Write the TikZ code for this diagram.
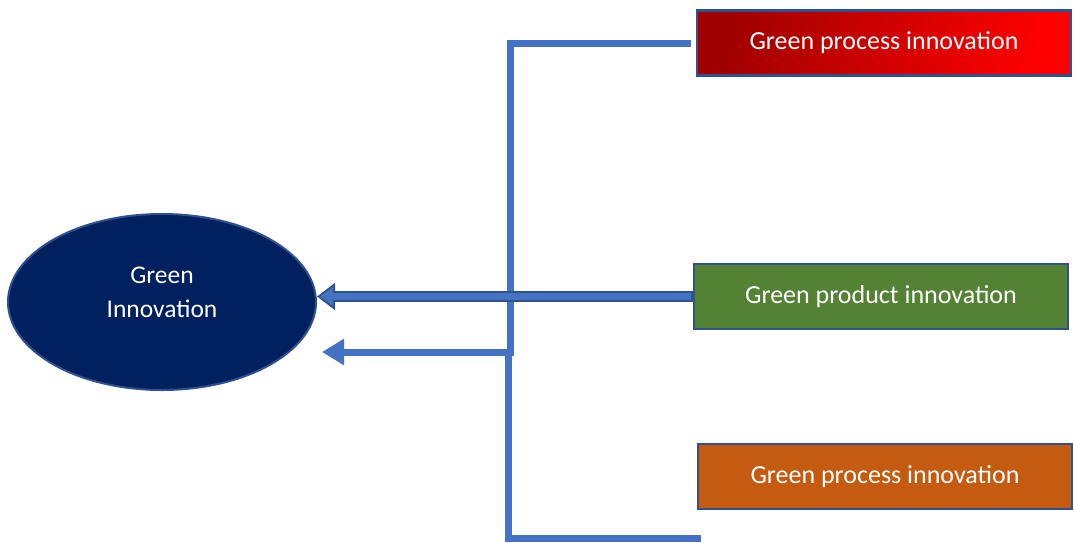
\documentclass[tikz,border=0pt]{standalone}
\usepackage{fontspec}
\setmainfont{Carlito}
\usetikzlibrary{shapes}
\usetikzlibrary{arrows.meta}
\definecolor{navy}{HTML}{002060}
\definecolor{rim}{HTML}{2F528F}
\definecolor{link}{HTML}{4472C4}
\definecolor{leaf}{HTML}{548235}
\definecolor{rust}{HTML}{C55A11}
\definecolor{dred}{HTML}{A00000}
\definecolor{bred}{HTML}{FF0000}

\begin{document}
\begin{tikzpicture}[x=1pt,y=-1pt,
    box/.style={draw=rim,line width=2.5pt,minimum width=374pt,minimum height=65pt,
      text=white,font=\fontsize{26}{34}\selectfont},
    wire/.style={draw=link,line width=7pt}]
  \useasboundingbox (0,0) rectangle (1074,542);
  \node[ellipse,draw=rim,line width=2pt,fill=navy,minimum width=308pt,minimum height=176pt,
    text=white,align=center,font=\fontsize{25.5}{34}\selectfont] (gi) at (162,302) {Green\\Innovation\\[-14pt]~};
  \node[box,left color=dred,right color=bred,shading angle=75] (procA) at (884,43) {Green process innovation};
  \node[box,fill=leaf] (product) at (881,296.5) {Green product innovation};
  \node[box,fill=rust] (procB) at (885,476.5) {Green process innovation};
  \coordinate (tipB) at (322,352);
  \coordinate (foot) at (701,538);
  \draw[wire,-{Triangle[length=22pt,width=25pt]}] ([xshift=-5pt]procA.west) -| (510,352) -- (tipB);
  \draw[wire] (foot) -| (508,356);
  \draw[draw=rim,line width=11pt,-{Triangle[length=18pt,width=26pt]}] (product.west) -- (product.west -| gi.east);
  \draw[draw=link,line width=7pt,shorten >=3pt,-{Triangle[length=13pt,width=18pt]}] ([xshift=-2pt]product.west) -- (product.west -| gi.east);
\end{tikzpicture}
\end{document}
